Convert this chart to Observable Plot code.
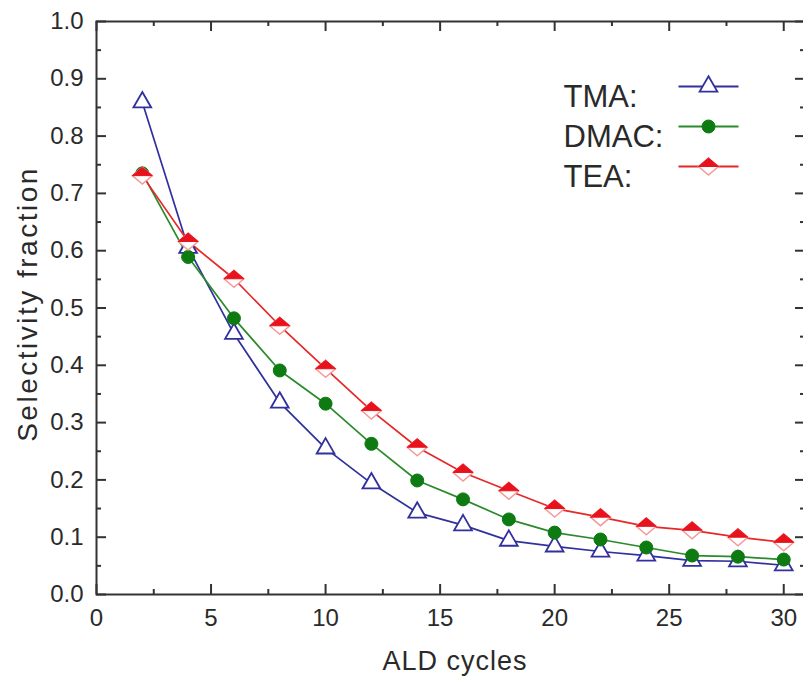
<!DOCTYPE html>
<html><head><meta charset="utf-8">
<script src="https://cdn.jsdelivr.net/npm/d3@7"></script>
<script src="https://cdn.jsdelivr.net/npm/@observablehq/plot@0.6"></script>
<style>
html,body{margin:0;padding:0;background:#fff;overflow:hidden;}
</style></head><body><div id="chart"></div>
<script>
// ---- data ----
const cycles = [2, 4, 6, 8, 10, 12, 14, 16, 18, 20, 22, 24, 26, 28, 30];
const tma  = [0.859, 0.605, 0.455, 0.335, 0.255, 0.194, 0.143, 0.121, 0.094, 0.084, 0.075, 0.068, 0.059, 0.058, 0.051];
const dmac = [0.735, 0.589, 0.482, 0.391, 0.333, 0.263, 0.199, 0.166, 0.131, 0.108, 0.096, 0.082, 0.068, 0.066, 0.061];
const tea  = [0.731, 0.616, 0.551, 0.469, 0.394, 0.321, 0.257, 0.213, 0.181, 0.150, 0.135, 0.119, 0.112, 0.100, 0.091];
const seriesNames = ["TMA:", "DMAC:", "TEA:"];
const xTicks = [0, 5, 10, 15, 20, 25, 30];
const xMinorTicks = [2.5, 7.5, 12.5, 17.5, 22.5, 27.5];
const yTicks = [0, 0.1, 0.2, 0.3, 0.4, 0.5, 0.6, 0.7, 0.8, 0.9, 1.0];
const yMinorTicks = [0.05, 0.15, 0.25, 0.35, 0.45, 0.55, 0.65, 0.75, 0.85, 0.95];
const xLabel = "ALD cycles";
const yLabel = "Selectivity fraction";

// ---- styling ----
const W = 803, H = 676;
const mL = 96, mT = 21, mB = 82, mR = -2;
const frameW = W - mL - mR, frameH = H - mT - mB;
const colors = {"TMA:": "#30309e", "DMAC:": "#2b8a2b", "TEA:": "#e62828"};
const ink = "#2a2a2a";

const rows = seriesNames.flatMap((s, i) =>
  cycles.map((c, j) => ({series: s, x: c, y: [tma, dmac, tea][i][j]})));
const bySeries = s => rows.filter(d => d.series === s);

// custom symbols
const hline = {draw(ctx) { ctx.moveTo(-30, 0); ctx.lineTo(30, 0); }};
const diamond = {draw(ctx) { ctx.moveTo(0, -8.5); ctx.lineTo(10, 0); ctx.lineTo(0, 8.5); ctx.lineTo(-10, 0); ctx.closePath(); }};
const upperHalf = {draw(ctx) { ctx.moveTo(0, -8.5); ctx.lineTo(10, 0); ctx.lineTo(-10, 0); ctx.closePath(); }};

function markersFor(name, data, extra = {}) {
  if (name === "TMA:") return [
    Plot.dot(data, {...extra, symbol: "triangle", r: 6.6, fill: "white", stroke: colors[name], strokeWidth: 1.8})
  ];
  if (name === "DMAC:") return [
    Plot.dot(data, {...extra, symbol: "circle", r: 6.5, fill: "#0d7a12", stroke: "#0d7a12", strokeWidth: 1})
  ];
  return [
    Plot.dot(data, {...extra, symbol: diamond, r: 6, fill: "white", stroke: "#f39a9a", strokeWidth: 1.5}),
    Plot.dot(data, {...extra, symbol: upperHalf, r: 6, fill: "#e8121c", stroke: "#e8121c", strokeWidth: 1})
  ];
}

const marks = [];
for (const s of seriesNames) {
  marks.push(Plot.line(bySeries(s), {x: "x", y: "y", stroke: colors[s], strokeWidth: 1.7}));
}
for (const s of seriesNames) marks.push(...markersFor(s, bySeries(s), {x: "x", y: "y"}));

// legend
seriesNames.forEach((s, i) => {
  const dy = 63 + i * 40;
  marks.push(Plot.text([s], {frameAnchor: "top-left", dx: 563 - mL, dy, text: d => d,
    textAnchor: "start", fontSize: 31, fill: ink}));
  marks.push(Plot.dot([s], {frameAnchor: "top-left", dx: 708 - mL, dy: dy + 2, symbol: hline,
    stroke: colors[s], strokeWidth: 1.8, fill: "none"}));
  marks.push(...markersFor(s, [s], {frameAnchor: "top-left", dx: 708 - mL, dy: dy + 2}));
});

// inward ticks on all four sides
const tk = {stroke: "#333", strokeWidth: 2};
marks.push(
  Plot.tickX(xTicks, {x: d => d, insetTop: frameH - 10, ...tk}),
  Plot.tickX(xMinorTicks, {x: d => d, insetTop: frameH - 5, ...tk}),
  Plot.tickX(xTicks, {x: d => d, insetBottom: frameH - 10, ...tk}),
  Plot.tickX(xMinorTicks, {x: d => d, insetBottom: frameH - 5, ...tk}),
  Plot.tickY(yTicks, {y: d => d, insetRight: frameW - 10, ...tk}),
  Plot.tickY(yMinorTicks, {y: d => d, insetRight: frameW - 5, ...tk}),
  Plot.tickY(yTicks, {y: d => d, insetLeft: frameW - 10, ...tk}),
  Plot.tickY(yMinorTicks, {y: d => d, insetLeft: frameW - 5, ...tk})
);

// axes
marks.push(
  Plot.axisX({ticks: xTicks, tickSize: 0, tickPadding: 14, fontSize: 24, label: null, fill: ink}),
  Plot.axisY({ticks: yTicks, tickSize: 0, tickPadding: 13, tickFormat: ".1f", fontSize: 24, label: null, fill: ink}),
  Plot.text([xLabel], {frameAnchor: "bottom", textAnchor: "middle", dx: 4, dy: 75, text: d => d, fontSize: 27, fill: ink}),
  Plot.text([yLabel], {frameAnchor: "left", textAnchor: "middle", dx: 28 - mL, dy: -4, rotate: -90, text: d => d, fontSize: 28, fill: ink}),
  Plot.frame({stroke: "#333", strokeWidth: 2})
);

const chart = Plot.plot({
  width: W, height: H,
  marginLeft: mL, marginRight: mR, marginTop: mT, marginBottom: mB,
  x: {domain: [0, 30.95]},
  y: {domain: [0, 1.0]},
  style: {fontFamily: "'Liberation Sans', Arial, sans-serif", background: "white", overflow: "visible"},
  marks
});
d3.select(chart).selectAll("text")
  .filter(function() { return this.textContent === yLabel; })
  .style("letter-spacing", "2.5px");
d3.select(chart).selectAll("text")
  .filter(function() { return this.textContent === xLabel; })
  .style("letter-spacing", "1px");
document.getElementById("chart").appendChild(chart);
</script></body></html>
